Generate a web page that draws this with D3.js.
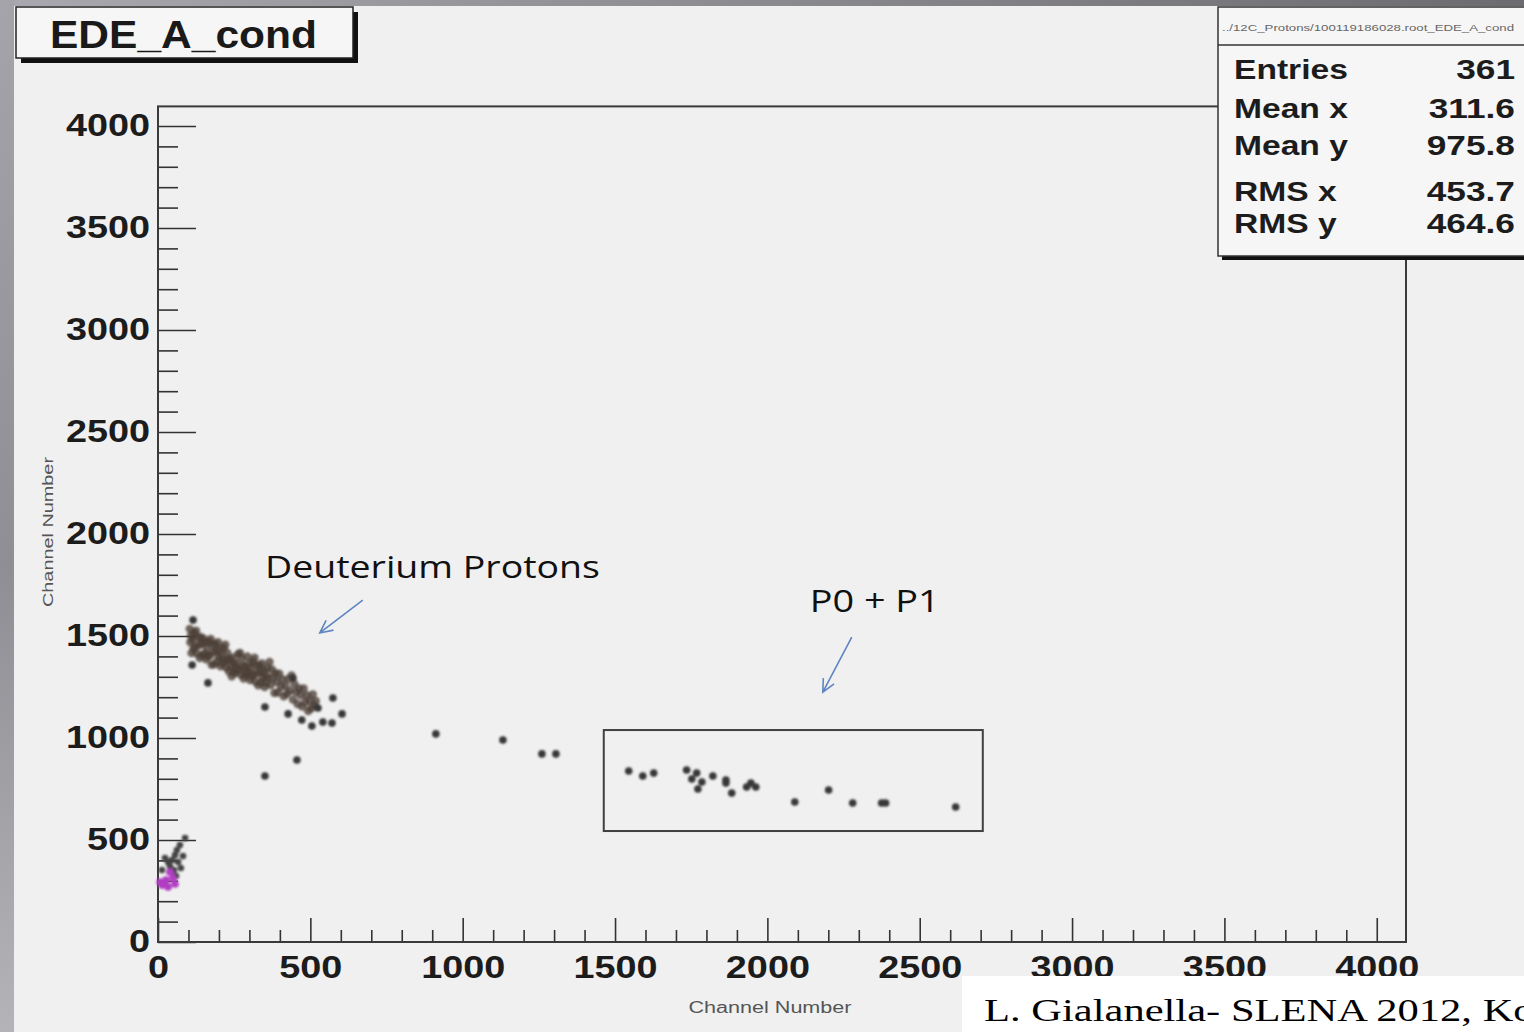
<!DOCTYPE html>
<html>
<head>
<meta charset="utf-8">
<script src="https://cdn.jsdelivr.net/npm/d3@7"></script>
<style>
  html, body { margin: 0; padding: 0; background: #f0f0f0; }
  svg { display: block; }
</style>
</head>
<body>
<svg id="chart" width="1524" height="1032"></svg>
<script>
// values (channel x, channel y)
const bandPoints = [
  [104,1535],[106,1469],[108,1503],[110,1416],[113,1483],[116,1437],[119,1515],[122,1448],[125,1526],[128,1414],
  [131,1491],[134,1454],[137,1392],[140,1495],[143,1460],[146,1405],[149,1488],[152,1414],[155,1469],[158,1386],
  [161,1440],[164,1402],[167,1472],[170,1403],[173,1486],[176,1359],[179,1457],[182,1420],[185,1361],[188,1460],
  [191,1428],[194,1376],[197,1469],[200,1397],[203,1435],[206,1352],[209,1405],[212,1367],[215,1441],[218,1379],
  [221,1457],[224,1345],[227,1418],[230,1385],[233,1326],[236,1386],[239,1354],[242,1302],[245,1395],[248,1323],
  [251,1360],[254,1318],[257,1368],[260,1339],[263,1411],[266,1334],[269,1417],[272,1310],[275,1388],[278,1351],
  [281,1292],[284,1352],[287,1320],[290,1307],[293,1400],[296,1328],[299,1366],[302,1284],[305,1342],[308,1302],
  [311,1375],[314,1310],[317,1393],[320,1276],[323,1354],[326,1317],[329,1258],[332,1357],[335,1325],[338,1273],
  [341,1366],[344,1294],[347,1332],[350,1250],[353,1308],[356,1271],[359,1343],[362,1296],[366,1373],[370,1260],
  [374,1336],[378,1295],[382,1221],[386,1318],[390,1276],[394,1223],[398,1315],[403,1251],[408,1288],[413,1204],
  [418,1256],[423,1217],[428,1289],[433,1232],[438,1307],[443,1188],[448,1264],[453,1225],[458,1167],[463,1243],
  [468,1209],[473,1154],[478,1243],[483,1175],[488,1210],[493,1132],[498,1183],[503,1145],[508,1214],[513,1160],
  [518,1181]
];
const outlierPoints = [
  [115,1578],[112,1358],[164,1270],[351,1152],[443,1294],[427,1118],[472,1088],[505,1059],[525,1147],[541,1078],
  [571,1073],[574,1196],[604,1118],[351,814],[456,892],[912,1020],[1132,990],[1260,922],[1306,922]
];
const boxPoints = [
  [1545,838],[1591,814],[1627,828],[1735,843],[1768,828],[1752,799],[1785,784],[1772,750],[1821,814],[1864,794],
  [1864,779],[1883,730],[1932,760],[1946,779],[1962,760],[2090,686],[2201,745],[2280,681],[2375,681],[2388,681],
  [2618,662]
];
const lowPoints = [
  [89,510],[72,475],[62,451],[56,426],[46,402],[33,392],[23,412],[39,372],[66,392],[52,353],
  [13,353],[59,323],[75,363],[82,421],[23,279]
];
const pinkPoints = [
  [39,343],[49,314],[26,304],[13,279],[33,270],[7,294],[56,284]
];

const majorTicks = d3.range(0, 4001, 500);
const minorTicks = d3.range(0, 4096, 100).filter(v => v % 500 !== 0);

const statLabels = ["Entries", "Mean x", "Mean y", "RMS x", "RMS y"];
const statValues = ["361", "311.6", "975.8", "453.7", "464.6"];

const histTitle = "EDE_A_cond";
const fileName = "../12C_Protons/100119186028.root_EDE_A_cond";
const axisTitle = "Channel Number";
const footer = "L. Gialanella- SLENA 2012, Kolkata";

const svg = d3.select("#chart");
const x = d3.scaleLinear().domain([0, 4096]).range([158, 1406]);
const y = d3.scaleLinear().domain([0, 4096]).range([942, 106.4]);

// stretch text horizontally around its anchor (the picture is a bit wide)
function stretch(sel, sx) {
  sel.each(function() {
    const t = d3.select(this);
    const tx = +t.attr("x") || 0, ty = +t.attr("y") || 0;
    t.attr("transform", `translate(${tx},${ty}) scale(${sx},1) translate(${-tx},${-ty})`);
  });
}

// background and the grey slide border
const defs = svg.append("defs");
const gl = defs.append("linearGradient").attr("id", "leftGrad").attr("x1", 0).attr("x2", 0).attr("y1", 0).attr("y2", 1);
gl.append("stop").attr("offset", "0%").attr("stop-color", "#a4a4aa");
gl.append("stop").attr("offset", "55%").attr("stop-color", "#8e8e94");
gl.append("stop").attr("offset", "100%").attr("stop-color", "#b4b4b8");
const gt = defs.append("linearGradient").attr("id", "topGrad");
gt.append("stop").attr("offset", "0%").attr("stop-color", "#a8a8ae");
gt.append("stop").attr("offset", "100%").attr("stop-color", "#6c6c70");
defs.append("filter").attr("id", "soft").append("feGaussianBlur").attr("stdDeviation", 0.9);

svg.append("rect").attr("width", 1524).attr("height", 1032).attr("fill", "#f0f0f0");
svg.append("rect").attr("x", 0).attr("y", 0).attr("width", 1524).attr("height", 6).attr("fill", "url(#topGrad)");
svg.append("rect").attr("x", 0).attr("y", 0).attr("width", 14).attr("height", 1032).attr("fill", "url(#leftGrad)");

// axes
const fmt = d3.format("d");
const yMinor = svg.append("g").attr("transform", "translate(158,0)")
  .call(d3.axisLeft(y).tickValues(minorTicks).tickSize(-20).tickFormat(""));
const yMajor = svg.append("g").attr("transform", "translate(158,0)")
  .call(d3.axisLeft(y).tickValues(majorTicks).tickSize(-38).tickPadding(8).tickFormat(fmt));
const xMinor = svg.append("g").attr("transform", "translate(0,942)")
  .call(d3.axisBottom(x).tickValues(minorTicks).tickSize(-12).tickFormat(""));
const xMajor = svg.append("g").attr("transform", "translate(0,942)")
  .call(d3.axisBottom(x).tickValues(majorTicks).tickSize(-24).tickPadding(14).tickFormat(fmt));

svg.selectAll(".domain").remove();
svg.selectAll(".tick line").attr("stroke", "#333").attr("stroke-width", 1.6);
[yMajor, xMajor].forEach(g => g.selectAll("text")
  .attr("font-family", "'Liberation Sans', Arial, sans-serif")
  .attr("font-weight", "bold").attr("font-size", 31).attr("fill", "#1c1c1c"));
yMajor.selectAll("text").attr("x", -8);
stretch(yMajor.selectAll("text"), 1.22);
stretch(xMajor.selectAll("text"), 1.22);

svg.append("rect").attr("x", 158).attr("y", 106.4).attr("width", 1248).attr("height", 835.6)
  .attr("fill", "none").attr("stroke", "#3a3a3a").attr("stroke-width", 2);

// axis titles
svg.append("text").attr("x", 770).attr("y", 1013).attr("text-anchor", "middle")
  .attr("font-family", "'Liberation Sans', Arial, sans-serif").attr("font-size", 16).attr("fill", "#555")
  .attr("textLength", 163).attr("lengthAdjust", "spacingAndGlyphs").text(axisTitle);
svg.append("text").attr("transform", "translate(53,532) rotate(-90)").attr("text-anchor", "middle")
  .attr("font-family", "'Liberation Sans', Arial, sans-serif").attr("font-size", 15).attr("fill", "#555")
  .attr("textLength", 150).attr("lengthAdjust", "spacingAndGlyphs").text(axisTitle);

// points
const pts = svg.append("g").attr("filter", "url(#soft)");
function drawPoints(data, fill, r, op) {
  pts.selectAll(null).data(data).enter().append("circle")
    .attr("cx", d => x(d[0])).attr("cy", d => y(d[1])).attr("r", r)
    .attr("fill", fill).attr("fill-opacity", op);
}
drawPoints(bandPoints, "#4a3e35", 4.2, 0.78);
drawPoints(outlierPoints, "#383838", 3.8, 1);
drawPoints(boxPoints, "#383838", 3.8, 1);
drawPoints(lowPoints, "#444", 3.3, 1);
drawPoints(pinkPoints, "#b23cc4", 3.8, 1);

// annotations (data coordinates)
svg.append("rect").attr("x", x(1463)).attr("y", y(1039))
  .attr("width", x(2707) - x(1463)).attr("height", y(544) - y(1039))
  .attr("fill", "none").attr("stroke", "#404040").attr("stroke-width", 2);

const annoFont = "'Open Sans', 'Noto Sans', sans-serif";
svg.append("text").attr("x", x(351)).attr("y", y(1784)).attr("font-family", annoFont).attr("font-size", 31)
  .attr("fill", "#111").attr("textLength", 335).attr("lengthAdjust", "spacingAndGlyphs").text("Deuterium Protons");
svg.append("text").attr("x", x(2139)).attr("y", y(1618)).attr("font-family", annoFont).attr("font-size", 31)
  .attr("fill", "#111").attr("textLength", 130).attr("lengthAdjust", "spacingAndGlyphs").text("P0 + P1");

function arrow(from, to) {
  const x0 = x(from[0]), y0 = y(from[1]), x1 = x(to[0]), y1 = y(to[1]);
  const a = Math.atan2(y1 - y0, x1 - x0), L = 14;
  const p = d3.path();
  p.moveTo(x0, y0); p.lineTo(x1, y1);
  p.moveTo(x1 - L * Math.cos(a - 0.45), y1 - L * Math.sin(a - 0.45)); p.lineTo(x1, y1);
  p.lineTo(x1 - L * Math.cos(a + 0.45), y1 - L * Math.sin(a + 0.45));
  svg.append("path").attr("d", p.toString()).attr("fill", "none")
    .attr("stroke", "#5f86c0").attr("stroke-width", 1.6);
}
arrow([672, 1676], [531, 1515]);
arrow([2277, 1495], [2182, 1225]);

// title box
svg.append("rect").attr("x", 21).attr("y", 12).attr("width", 337).attr("height", 51).attr("fill", "#111");
svg.append("rect").attr("x", 16).attr("y", 7).attr("width", 337).attr("height", 51)
  .attr("fill", "#f6f6f6").attr("stroke", "#222").attr("stroke-width", 1.5);
svg.append("text").attr("x", 50).attr("y", 48).attr("font-family", "'Liberation Sans', Arial, sans-serif")
  .attr("font-weight", "bold").attr("font-size", 39).attr("fill", "#1a1a1a")
  .attr("textLength", 267).attr("lengthAdjust", "spacingAndGlyphs").text(histTitle);

// stats box
svg.append("rect").attr("x", 1222).attr("y", 11).attr("width", 320).attr("height", 249).attr("fill", "#111");
svg.append("rect").attr("x", 1218).attr("y", 7).attr("width", 320).attr("height", 249)
  .attr("fill", "#f6f6f6").attr("stroke", "#333").attr("stroke-width", 1.5);
svg.append("line").attr("x1", 1218).attr("x2", 1524).attr("y1", 45).attr("y2", 45)
  .attr("stroke", "#333").attr("stroke-width", 1.5);
svg.append("text").attr("x", 1222).attr("y", 31).attr("font-family", "'Liberation Sans', Arial, sans-serif")
  .attr("font-size", 9).attr("fill", "#666").attr("textLength", 292).attr("lengthAdjust", "spacingAndGlyphs")
  .text(fileName);
const rowBase = [79, 118, 155, 201, 233];
const statFont = "'Liberation Sans', Arial, sans-serif";
const lab = svg.append("g").selectAll("text").data(statLabels).enter().append("text")
  .attr("x", 1234).attr("y", (d, i) => rowBase[i]).attr("font-family", statFont).attr("font-weight", "bold")
  .attr("font-size", 28).attr("fill", "#1c1c1c").text(d => d);
stretch(lab, 1.2);
const val = svg.append("g").selectAll("text").data(statValues).enter().append("text")
  .attr("x", 1515).attr("y", (d, i) => rowBase[i]).attr("text-anchor", "end").attr("font-family", statFont)
  .attr("font-weight", "bold").attr("font-size", 28).attr("fill", "#1c1c1c").text(d => d);
stretch(val, 1.26);

// footer box of the slide
svg.append("rect").attr("x", 962).attr("y", 976).attr("width", 600).attr("height", 60).attr("fill", "#ffffff");
const ft = svg.append("text").attr("x", 984).attr("y", 1021).attr("font-family", "'Liberation Serif', 'Times New Roman', serif")
  .attr("font-size", 32).attr("fill", "#000").text(footer);
stretch(ft, 1.33);
</script>
</body>
</html>
